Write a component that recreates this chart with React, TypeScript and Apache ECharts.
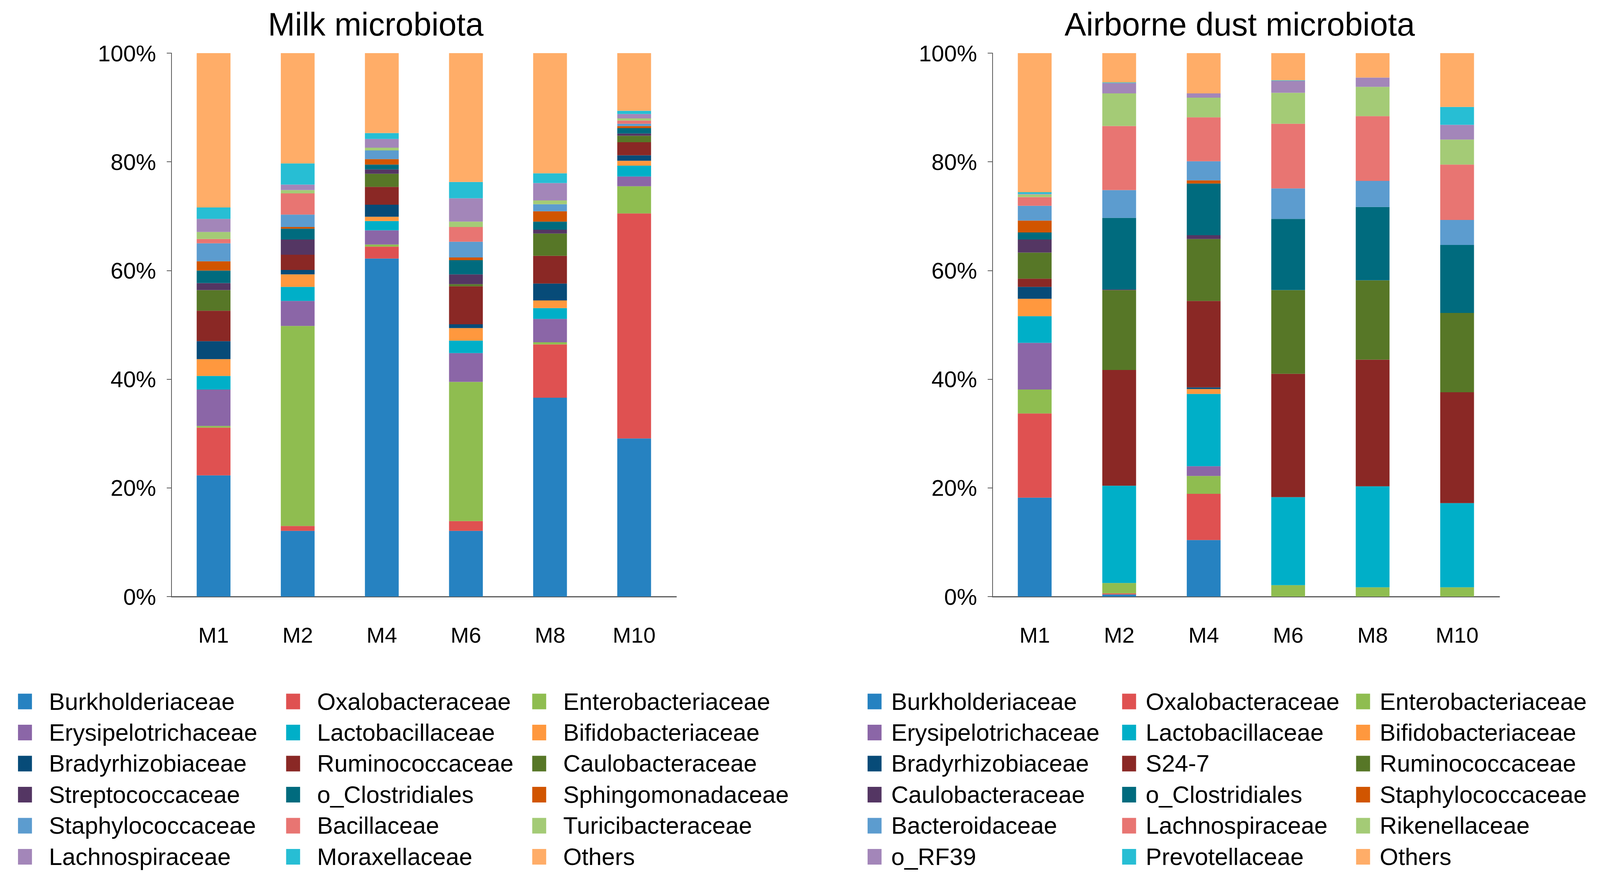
import React, { useEffect, useRef } from "react";
import * as echarts from "echarts";

// ---------- categories & ticks ----------
const samples = ["M1", "M2", "M4", "M6", "M8", "M10"];
const yTickStep = 20;
const yMax = 100;

// ---------- Milk microbiota (% relative abundance) ----------
const milkBurkholderiaceae = [22.3, 12.1, 62.2, 12.1, 36.6, 29.1];
const milkOxalobacteraceae = [8.8, 0.9, 2.2, 1.8, 9.8, 41.4];
const milkEnterobacteriaceae = [0.3, 36.8, 0.4, 25.6, 0.4, 5.0];
const milkErysipelotrichaceae = [6.7, 4.6, 2.6, 5.3, 4.3, 1.8];
const milkLactobacillaceae = [2.5, 2.6, 1.7, 2.3, 2.0, 2.0];
const milkBifidobacteriaceae = [3.1, 2.3, 0.8, 2.3, 1.4, 0.9];
const milkBradyrhizobiaceae = [3.3, 0.8, 2.2, 0.7, 3.1, 1.0];
const milkRuminococcaceae = [5.6, 2.8, 3.3, 7.0, 5.1, 2.4];
const milkCaulobacteraceae = [3.8, 0.0, 2.4, 0.4, 4.1, 1.2];
const milkStreptococcaceae = [1.3, 2.8, 0.8, 1.8, 0.7, 0.4];
const milkClostridiales = [2.3, 2.0, 0.9, 2.6, 1.5, 1.0];
const milkSphingomonadaceae = [1.7, 0.3, 1.0, 0.5, 1.9, 0.4];
const milkStaphylococcaceae = [3.3, 2.3, 1.6, 2.9, 1.3, 0.4];
const milkBacillaceae = [0.8, 3.9, 0.0, 2.7, 0.0, 0.6];
const milkTuricibacteraceae = [1.3, 0.6, 0.5, 1.0, 0.7, 0.4];
const milkLachnospiraceae = [2.4, 1.0, 1.6, 4.3, 3.2, 0.8];
const milkMoraxellaceae = [2.1, 3.9, 1.1, 3.0, 1.8, 0.6];
const milkOthers = [28.4, 20.3, 14.7, 23.7, 22.1, 10.6];

// ---------- Airborne dust microbiota ----------
const dustBurkholderiaceae = [18.2, 0.4, 10.4, 0, 0, 0];
const dustOxalobacteraceae = [15.5, 0.2, 8.5, 0, 0, 0];
const dustEnterobacteriaceae = [4.4, 1.9, 3.3, 2.1, 1.7, 1.7];
const dustErysipelotrichaceae = [8.6, 0, 1.8, 0, 0, 0];
const dustLactobacillaceae = [4.9, 17.9, 13.3, 16.2, 18.6, 15.5];
const dustBifidobacteriaceae = [3.2, 0, 0.9, 0, 0, 0];
const dustBradyrhizobiaceae = [2.2, 0, 0.3, 0, 0, 0];
const dustS247 = [1.5, 21.3, 15.9, 22.7, 23.3, 20.4];
const dustRuminococcaceae = [4.8, 14.7, 11.4, 15.4, 14.6, 14.6];
const dustCaulobacteraceae = [2.4, 0.1, 0.7, 0, 0, 0];
const dustClostridiales = [1.3, 13.2, 9.5, 13.1, 13.5, 12.5];
const dustStaphylococcaceae = [2.2, 0, 0.6, 0, 0, 0];
const dustBacteroidaceae = [2.7, 5.1, 3.5, 5.6, 4.8, 4.6];
const dustLachnospiraceae = [1.6, 11.8, 8.1, 11.9, 11.9, 10.2];
const dustRikenellaceae = [0.5, 6.0, 3.6, 5.7, 5.4, 4.6];
const dustRF39 = [0.1, 1.9, 0.8, 2.2, 1.7, 2.7];
const dustPrevotellaceae = [0.3, 0.1, 0, 0.1, 0, 3.3];
const dustOthers = [25.6, 5.4, 7.4, 5.0, 4.5, 9.9];

const milkSeries: [string, number[]][] = [
  ["Burkholderiaceae", milkBurkholderiaceae],
  ["Oxalobacteraceae", milkOxalobacteraceae],
  ["Enterobacteriaceae", milkEnterobacteriaceae],
  ["Erysipelotrichaceae", milkErysipelotrichaceae],
  ["Lactobacillaceae", milkLactobacillaceae],
  ["Bifidobacteriaceae", milkBifidobacteriaceae],
  ["Bradyrhizobiaceae", milkBradyrhizobiaceae],
  ["Ruminococcaceae", milkRuminococcaceae],
  ["Caulobacteraceae", milkCaulobacteraceae],
  ["Streptococcaceae", milkStreptococcaceae],
  ["o_Clostridiales", milkClostridiales],
  ["Sphingomonadaceae", milkSphingomonadaceae],
  ["Staphylococcaceae", milkStaphylococcaceae],
  ["Bacillaceae", milkBacillaceae],
  ["Turicibacteraceae", milkTuricibacteraceae],
  ["Lachnospiraceae", milkLachnospiraceae],
  ["Moraxellaceae", milkMoraxellaceae],
  ["Others", milkOthers],
];

const dustSeries: [string, number[]][] = [
  ["Burkholderiaceae", dustBurkholderiaceae],
  ["Oxalobacteraceae", dustOxalobacteraceae],
  ["Enterobacteriaceae", dustEnterobacteriaceae],
  ["Erysipelotrichaceae", dustErysipelotrichaceae],
  ["Lactobacillaceae", dustLactobacillaceae],
  ["Bifidobacteriaceae", dustBifidobacteriaceae],
  ["Bradyrhizobiaceae", dustBradyrhizobiaceae],
  ["S24-7", dustS247],
  ["Ruminococcaceae", dustRuminococcaceae],
  ["Caulobacteraceae", dustCaulobacteraceae],
  ["o_Clostridiales", dustClostridiales],
  ["Staphylococcaceae", dustStaphylococcaceae],
  ["Bacteroidaceae", dustBacteroidaceae],
  ["Lachnospiraceae", dustLachnospiraceae],
  ["Rikenellaceae", dustRikenellaceae],
  ["o_RF39", dustRF39],
  ["Prevotellaceae", dustPrevotellaceae],
  ["Others", dustOthers],
];

const palette = [
  "#2682C1", "#DF5151", "#8FBD50", "#8B66A7", "#00AFC8", "#FF983E",
  "#074B78", "#8A2825", "#577727", "#543663", "#006B7E", "#D15500",
  "#5C9CCF", "#E87572", "#A4CB76", "#A386B9", "#27BED4", "#FFAD68",
];

const FONT = '"Liberation Sans", Arial, Helvetica, sans-serif';
const AXIS_COLOR = "#5A5A5A";
const REF_W = 4356;
const REF_H = 2255;
const HALF = 2178;

interface ChartCfg {
  title: string;
  titleX: number; // in reference px, relative to chart div
  defs: [string, number[]][];
  gridLeft: number;
  gridWidth: number;
  legendLefts: number[];
  legendTextPad: number;
  width: number;
}

function buildOption(c: ChartCfg, sx: number, sy: number) {
  const fs = Math.min(sx, sy);
  const names = c.defs.map((d) => d[0]);
  const legends = [0, 1, 2].map((k) => ({
    orient: "vertical",
    left: c.legendLefts[k] * sx,
    top: 1765 * sy,
    height: 480 * sy,
    padding: 0,
    icon: "rect",
    itemWidth: 38 * sx,
    itemHeight: 40 * sy,
    itemGap: 79.6 * sy - 65 * fs,
    selectedMode: false,
    data: names.filter((_, i) => i % 3 === k),
    textStyle: {
      fontSize: 65 * fs,
      fontFamily: FONT,
      color: "#000",
      padding: [0, 0, 0, c.legendTextPad * sx],
    },
  }));
  return {
    animation: false,
    color: palette,
    graphic: [
      {
        type: "text",
        x: c.titleX * sx,
        y: 62 * sy,
        style: {
          text: c.title,
          fill: "#000",
          fontSize: 88 * fs,
          fontFamily: FONT,
          align: "center",
          verticalAlign: "middle",
          textAlign: "center",
          textVerticalAlign: "middle",
        },
      },
    ],
    legend: legends,
    grid: {
      left: c.gridLeft * sx,
      width: c.gridWidth * sx,
      top: 136 * sy,
      height: 1391 * sy,
      containLabel: false,
    },
    xAxis: {
      type: "category",
      data: samples,
      axisLine: { show: true, lineStyle: { color: AXIS_COLOR, width: 3 } },
      axisTick: { show: false },
      axisLabel: { fontSize: 60 * fs, fontFamily: FONT, color: "#000", margin: 70 * sy },
      splitLine: { show: false },
    },
    yAxis: {
      type: "value",
      min: 0,
      max: yMax,
      interval: yTickStep,
      axisLine: { show: true, lineStyle: { color: AXIS_COLOR, width: 2 } },
      axisTick: {
        show: true,
        inside: false,
        length: 13 * sx,
        lineStyle: { color: AXIS_COLOR, width: 2 },
      },
      axisLabel: {
        fontSize: 62 * fs,
        fontFamily: FONT,
        color: "#000",
        margin: 42 * sx,
        formatter: "{value}%",
      },
      splitLine: { show: false },
    },
    series: c.defs.map(([name, vals]) => ({
      name,
      type: "bar",
      stack: "total",
      barWidth: 92 * sx,
      data: vals,
      itemStyle: { borderWidth: 0 },
      emphasis: { disabled: true },
    })),
  };
}

const milkCfg: ChartCfg = {
  title: "Milk microbiota",
  titleX: 1023,
  defs: milkSeries,
  gridLeft: 467,
  gridWidth: 1374,
  legendLefts: [49, 779, 1449],
  legendTextPad: 41,
  width: HALF,
};

const dustCfg: ChartCfg = {
  title: "Airborne dust microbiota",
  titleX: 3375 - HALF,
  defs: dustSeries,
  gridLeft: 2702 - HALF,
  gridWidth: 1380,
  legendLefts: [2362 - HALF, 3055 - HALF, 3692 - HALF],
  legendTextPad: 21,
  width: REF_W - HALF,
};

function Chart({ cfg, left, sx, sy }: { cfg: ChartCfg; left: number; sx: number; sy: number }) {
  const ref = useRef<HTMLDivElement>(null);
  useEffect(() => {
    if (!ref.current) return;
    const chart = echarts.init(ref.current, undefined, { renderer: "svg" });
    chart.setOption(buildOption(cfg, sx, sy) as any);
    return () => chart.dispose();
  }, [cfg, sx, sy]);
  return (
    <div
      ref={ref}
      style={{
        position: "absolute",
        left: left * sx,
        top: 0,
        width: cfg.width * sx,
        height: REF_H * sy,
      }}
    />
  );
}

export default function App() {
  const vw = (typeof window !== "undefined" && window.innerWidth) || REF_W;
  const vh = (typeof window !== "undefined" && window.innerHeight) || REF_H;
  const sx = Math.min(1, vw / REF_W);
  const sy = Math.min(1, vh / REF_H);
  return (
    <div
      style={{
        position: "absolute",
        left: 0,
        top: 0,
        width: REF_W * sx,
        height: REF_H * sy,
        background: "#fff",
        overflow: "hidden",
      }}
    >
      <Chart cfg={milkCfg} left={0} sx={sx} sy={sy} />
      <Chart cfg={dustCfg} left={HALF} sx={sx} sy={sy} />
    </div>
  );
}
